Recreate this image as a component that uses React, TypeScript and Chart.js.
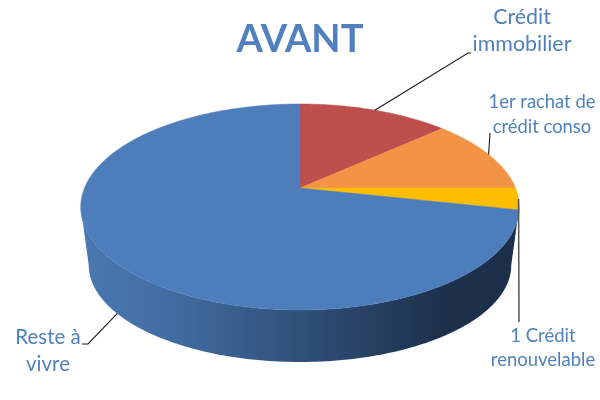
import React, { useEffect, useRef } from "react";
import { Chart, registerables } from "chart.js";

Chart.register(...registerables);

const titleText = "AVANT";
const categories = ["Crédit immobilier", "1er rachat de crédit conso", "1 Crédit renouvelable", "Reste à vivre"];
const shares = [13.3, 11.7, 3.4, 71.6];
const sliceColors = ["#BE4F4C", "#F39345", "#FDBD00", "#4D7EBB"];

const TEXT = "#5080BD";
const FONT = "Lato, Carlito, 'Noto Sans', sans-serif";

// Perspective disc: apex of the slices, its projective constants, and the extrusion.
const CX = 300, CY = 188, KP = -0.1845, AY = 99.5, CU = 215.5;
const ELL_CY = 207, ELL_RX = 220, ELL_RY = 103;
const LOW_CY = 265, LOW_RX = 212, LOW_RY = 97;

type P = { x: number; y: number };
const top = (a: number): P => {
  const u = Math.cos(a), v = Math.sin(a), d = 1 + KP * v;
  return { x: CX + (CU * u) / d, y: CY + (AY * v) / d };
};
const low = (a: number): P => {
  const p = top(a);
  return {
    x: CX + ((p.x - CX) * LOW_RX) / ELL_RX,
    y: LOW_CY + ((p.y - ELL_CY) * LOW_RY) / ELL_RY,
  };
};

// One entry per slice, same order as categories.
const labelLayout = [
  { lines: ["Crédit", "immobilier"], x: 522, ys: [24, 51], size: 21.4, elbow: [[468, 53], [471, 53]], rim: "top" },
  { lines: ["1er rachat de", "crédit conso"], x: 542, ys: [108, 133], size: 18.4, elbow: [[490, 133]], rim: "top" },
  { lines: ["1 Crédit", "renouvelable"], x: 543, ys: [342, 366], size: 18.5, elbow: [[519, 322]], rim: "top" },
  { lines: ["Reste à", "vivre"], x: 48, ys: [344, 371], size: 20.5, elbow: [[88, 344], [82, 344]], rim: "low" },
];

const disc3d = {
  id: "disc3d",
  beforeDatasetDraw(chart: any) {
    const ctx: CanvasRenderingContext2D = chart.ctx;
    const arcs = chart.getDatasetMeta(0).data;
    const path = (fn: (a: number) => P, a0: number, a1: number, first: boolean) => {
      const n = Math.max(2, Math.ceil(Math.abs(a1 - a0) * 90));
      for (let i = 0; i <= n; i++) {
        const p = fn(a0 + ((a1 - a0) * i) / n);
        if (first && i === 0) ctx.moveTo(p.x, p.y);
        else ctx.lineTo(p.x, p.y);
      }
    };
    ctx.save();
    // Side wall
    const ext = Math.asin(-KP);
    const g = ctx.createLinearGradient(80, 0, 520, 0);
    g.addColorStop(0, "#4A79B3");
    g.addColorStop(0.2, "#426DA2");
    g.addColorStop(0.5, "#2F5079");
    g.addColorStop(0.82, "#1D314C");
    g.addColorStop(1, "#1C2F4A");
    ctx.beginPath();
    path(top, ext, Math.PI - ext, true);
    path(low, Math.PI - ext, ext, false);
    ctx.closePath();
    ctx.fillStyle = g;
    ctx.fill();
    // Top face, slices from the library's own arc angles
    arcs.forEach((arc: any) => {
      const { startAngle, endAngle } = arc.getProps(["startAngle", "endAngle"]);
      ctx.beginPath();
      ctx.moveTo(CX, CY);
      path(top, startAngle, endAngle, false);
      ctx.closePath();
      ctx.fillStyle = arc.options.backgroundColor;
      ctx.strokeStyle = arc.options.backgroundColor;
      ctx.lineWidth = 0.5;
      ctx.fill();
      ctx.stroke();
    });
    // Leader lines and labels
    arcs.forEach((arc: any, i: number) => {
      const { startAngle, endAngle } = arc.getProps(["startAngle", "endAngle"]);
      const mid = (startAngle + endAngle) / 2;
      const l = labelLayout[i];
      const s = l.rim === "low" ? low(mid) : top(mid);
      ctx.beginPath();
      ctx.moveTo(s.x, s.y);
      l.elbow.forEach(([x, y]) => ctx.lineTo(x, y));
      ctx.strokeStyle = i === 2 ? "#555" : "#1a1a1a";
      ctx.lineWidth = i === 2 ? 1.5 : 1.1;
      ctx.stroke();
      ctx.fillStyle = TEXT;
      ctx.font = `${l.size}px ${FONT}`;
      ctx.textAlign = "center";
      ctx.textBaseline = "alphabetic";
      l.lines.forEach((t, k) => ctx.fillText(t, l.x, l.ys[k]));
    });
    ctx.restore();
    return false;
  },
};

export default function App() {
  const ref = useRef<HTMLCanvasElement>(null);
  useEffect(() => {
    document.body.style.margin = "0";
    const chart = new Chart(ref.current!, {
      type: "pie",
      data: {
        labels: categories,
        datasets: [{ data: shares, backgroundColor: sliceColors, borderWidth: 0 }],
      },
      options: {
        responsive: false,
        animation: false,
        layout: { padding: 0 },
        plugins: {
          legend: { display: false },
          tooltip: { enabled: false },
          title: {
            display: true,
            text: titleText,
            color: TEXT,
            font: { family: FONT, size: 38, weight: "bold" },
            padding: { top: 17, bottom: 0 },
          },
        },
      },
      plugins: [disc3d],
    } as any);
    return () => chart.destroy();
  }, []);
  return <canvas ref={ref} width={600} height={400} style={{ display: "block", width: 600, height: 400 }} />;
}
